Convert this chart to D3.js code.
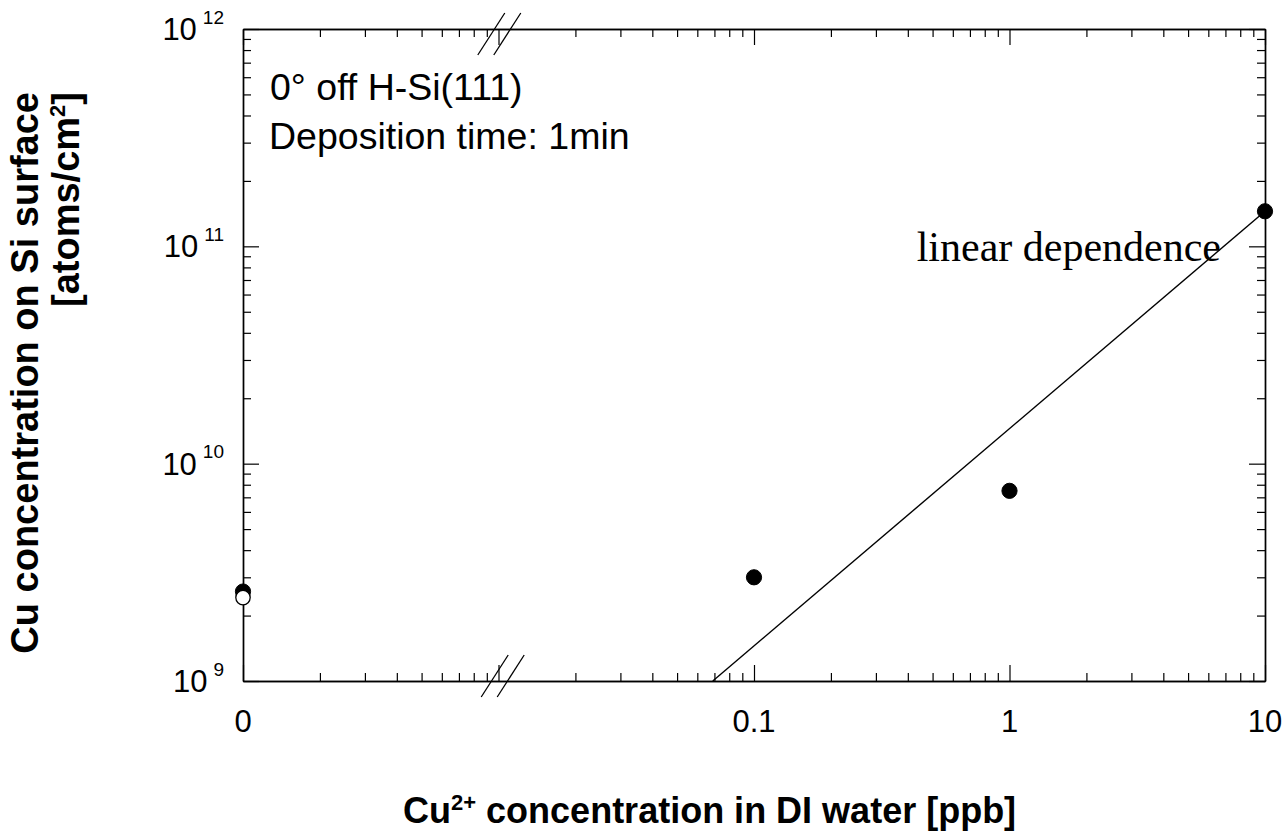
<!DOCTYPE html>
<html>
<head>
<meta charset="utf-8">
<script src="https://cdn.jsdelivr.net/npm/d3@7"></script>
<style>
  html, body { margin: 0; padding: 0; background: #fff; }
  svg { display: block; }
  .sans { font-family: "Liberation Sans", Arial, Helvetica, sans-serif; }
  .serif { font-family: "Liberation Serif", "Times New Roman", serif; }
</style>
</head>
<body>
<svg id="chart" width="1284" height="833"></svg>
<script>
// Cu deposited on H-terminated Si(111) vs. Cu2+ concentration in the rinse water.
// The x position 0.001 ppb stands in for "0" (no added Cu) on the broken log axis.
const filledConc = [0.001, 0.1, 1, 10];          // ppb
const filledCu = [2.58e9, 3.0e9, 7.5e9, 1.45e11]; // atoms/cm2
const openConc = [0.001];
const openCu = [2.42e9];
const fitSlope = 1.45e10;                        // atoms/cm2 per ppb (slope-1 line)
const xTickValues = [0.001, 0.1, 1, 10];
const xTickLabels = ["0", "0.1", "1", "10"];
const yTickExponents = [9, 10, 11, 12];

const svg = d3.select("#chart");
const plotL = 243, plotR = 1265, plotT = 29, plotB = 681;

const x = d3.scaleLog().domain([1e-3, 10]).range([plotL, plotR]);
const y = d3.scaleLog().domain([1e9, 1e12]).range([plotB, plotT]);

// major / minor tick positions per decade
const xMajor = [1e-3, 1e-2, 1e-1, 1, 10];
const xMinor = [];
for (let d = -3; d <= 0; d++) for (let k = 2; k <= 9; k++) xMinor.push(k * Math.pow(10, d));
const yMajor = yTickExponents.map(e => Math.pow(10, e));
const yMinor = [];
for (let d = 9; d <= 11; d++) for (let k = 2; k <= 9; k++) yMinor.push(k * Math.pow(10, d));

const MAJ = 16, MIN = 8;

function axisLayer(gen, tx, ty) {
  const g = svg.append("g").attr("transform", `translate(${tx},${ty})`).call(gen);
  g.selectAll("text").remove();
  g.select(".domain").attr("stroke", "#000").attr("stroke-width", 1.4);
  g.selectAll(".tick line").attr("stroke", "#000").attr("stroke-width", 1.2);
  return g;
}

// inward ticks on all four sides
[[xMajor, MAJ], [xMinor, MIN]].forEach(([vals, len]) => {
  axisLayer(d3.axisBottom(x).tickValues(vals).tickSizeInner(-len).tickSizeOuter(0), 0, plotB);
  axisLayer(d3.axisTop(x).tickValues(vals).tickSizeInner(-len).tickSizeOuter(0), 0, plotT);
});
[[yMajor, MAJ], [yMinor, MIN]].forEach(([vals, len]) => {
  axisLayer(d3.axisLeft(y).tickValues(vals).tickSizeInner(-len).tickSizeOuter(0), plotL, 0);
  axisLayer(d3.axisRight(y).tickValues(vals).tickSizeInner(-len).tickSizeOuter(0), plotR, 0);
});

// axis-break marks around 0.01 ppb
const slant = 27 / 42;
function breakMarks(cx, axisY, below, above) {
  [-8, 8].forEach(off => {
    const c = cx + off;
    svg.append("line")
      .attr("x1", c - slant * below).attr("y1", axisY + below)
      .attr("x2", c + slant * above).attr("y2", axisY - above)
      .attr("stroke", "#000").attr("stroke-width", 1.3);
  });
}
breakMarks(x(0.01) + 1, plotB, 16, 26);
breakMarks(x(0.01) + 4, plotT, 26, 16);

// slope-1 reference line: Cu = fitSlope * conc
const fitLine = [1e9 / fitSlope, 10].map(c => [c, fitSlope * c]);
svg.append("path")
  .datum(fitLine)
  .attr("d", d3.line().x(d => x(d[0])).y(d => y(d[1])))
  .attr("fill", "none").attr("stroke", "#000").attr("stroke-width", 1.4);

// measured points
svg.append("g").selectAll("circle")
  .data(filledConc.map((c, i) => [c, filledCu[i]]))
  .join("circle")
  .attr("cx", d => x(d[0])).attr("cy", d => y(d[1])).attr("r", 7.6)
  .attr("fill", "#000").attr("stroke", "#000").attr("stroke-width", 1);
svg.append("g").selectAll("circle")
  .data(openConc.map((c, i) => [c, openCu[i]]))
  .join("circle")
  .attr("cx", d => x(d[0])).attr("cy", d => y(d[1])).attr("r", 7.2)
  .attr("fill", "#fff").attr("stroke", "#000").attr("stroke-width", 1.3);

// x tick labels
svg.append("g").attr("class", "sans").selectAll("text")
  .data(xTickValues)
  .join("text")
  .attr("x", d => x(d)).attr("y", plotB + 51)
  .attr("text-anchor", "middle").attr("font-size", 31).attr("fill", "#000")
  .text((d, i) => xTickLabels[i]);

// y tick labels as powers of ten
const yl = svg.append("g").attr("class", "sans");
yTickExponents.forEach(e => {
  const t = yl.append("text")
    .attr("x", plotL - 19).attr("y", y(Math.pow(10, e)) + 11)
    .attr("text-anchor", "end").attr("fill", "#000");
  t.append("tspan").attr("font-size", 31).text("10");
  t.append("tspan").attr("font-size", 19).attr("dx", 6).attr("dy", -16.5).text(String(e));
});

// annotations
svg.append("text").attr("class", "sans")
  .attr("x", 270).attr("y", 100).attr("font-size", 37.5).attr("fill", "#000")
  .text("0\u00B0 off H-Si(111)");
svg.append("text").attr("class", "sans")
  .attr("x", 269).attr("y", 149).attr("font-size", 37.5).attr("fill", "#000")
  .text("Deposition time: 1min");
svg.append("text").attr("class", "serif")
  .attr("x", 1221).attr("y", 261).attr("text-anchor", "end")
  .attr("font-size", 42).attr("fill", "#000")
  .text("linear dependence");

// x axis title
const xt = svg.append("text").attr("class", "sans")
  .attr("x", 403).attr("y", 823)
  .attr("font-size", 36).attr("font-weight", "bold").attr("fill", "#000");
xt.append("tspan").text("Cu");
xt.append("tspan").attr("font-size", 22).attr("dy", -13).text("2+");
xt.append("tspan").attr("dy", 13).text(" concentration in DI water [ppb]");

// y axis title (two lines, top-aligned)
svg.append("text").attr("class", "sans")
  .attr("transform", "translate(38,92) rotate(-90)")
  .attr("text-anchor", "end").attr("font-size", 38).attr("font-weight", "bold").attr("fill", "#000")
  .text("Cu concentration on Si surface");
const yt2 = svg.append("text").attr("class", "sans")
  .attr("transform", "translate(79,92) rotate(-90)")
  .attr("text-anchor", "end").attr("font-size", 38).attr("font-weight", "bold").attr("fill", "#000");
yt2.append("tspan").text("[atoms/cm");
yt2.append("tspan").attr("font-size", 22).attr("dy", -14).text("2");
yt2.append("tspan").attr("dy", 14).text("]");
</script>
</body>
</html>
